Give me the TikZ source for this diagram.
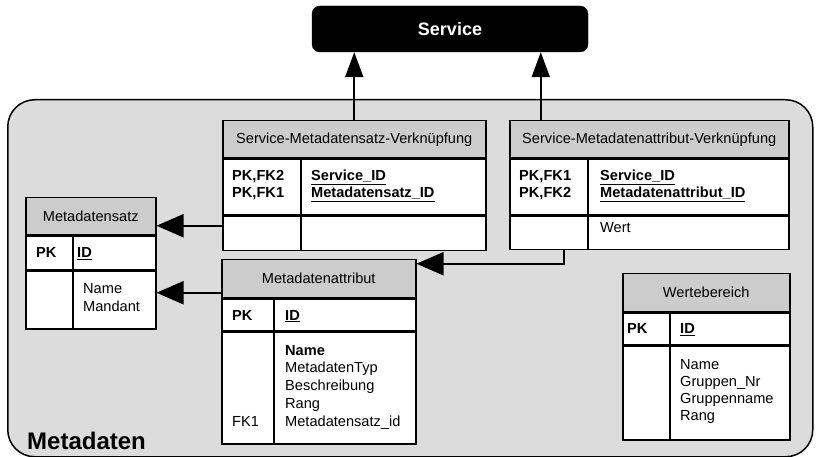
\documentclass[tikz,border=0pt]{standalone}
\usepackage{fontspec}
\setmainfont{Liberation Sans}
\usetikzlibrary{arrows.meta}
\definecolor{boxgray}{HTML}{DCDCDC}
\definecolor{headgray}{HTML}{CCCCCC}
\tikzset{
  band/.style={draw, line width=1.5pt, inner sep=0pt, anchor=north west},
  head/.style={band, fill=headgray, font=\fontsize{14.6}{17.5}\selectfont},
  body/.style={band, fill=white},
  entry/.style={inner sep=0pt, anchor=base west, align=left, font=\fontsize{14.6}{17.5}\selectfont},
  keyentry/.style={entry, font=\fontsize{14.6}{17}\selectfont\bfseries},
  divider/.style={line width=1.5pt},
  fk/.style={line width=2pt, -{Triangle[length=27pt,width=23pt]}},
  svcfk/.style={line width=2pt, -{Triangle[length=25pt,width=18pt]}},
}
\begin{document}
\begin{tikzpicture}[x=1pt, y=-1pt]
  \useasboundingbox (0,0) rectangle (817,457);
  % outer box and service
  \node[draw, line width=1.5pt, fill=boxgray, rounded corners=27pt, anchor=north west,
        minimum width=805pt, minimum height=357pt] (meta) at (7,99) {};
  \node[anchor=base west, inner sep=0pt, font=\fontsize{24}{28}\selectfont\bfseries] (metalbl) at (27,449) {Metadaten};
  \node[draw, fill=black, rounded corners=8pt, minimum width=276pt, minimum height=46pt,
        text=white, font=\fontsize{18}{20}\selectfont\bfseries] (svc) at (450,29) {Service};

  % Service-Metadatensatz-Verknuepfung
  \node[head, minimum width=263pt, minimum height=37pt] (smvh) at (222,120) {Service-Metadatensatz-Verknüpfung};
  \node[body, minimum width=263pt, minimum height=56pt] (smv1) at (smvh.south west) {};
  \node[body, minimum width=263pt, minimum height=34pt] (smv2) at (smv1.south west) {};
  \draw[divider] ([xshift=79pt]smv1.north west) -- ([xshift=79pt]smv2.south west);
  \node[keyentry] (smvk) at (232,198) {PK,FK2\\PK,FK1};
  \node[keyentry] (smvf) at (311,198) {\underline{Service\_ID}\\\underline{Metadatensatz\_ID}};

  % Service-Metadatenattribut-Verknuepfung
  \node[head, minimum width=279pt, minimum height=37pt] (smah) at (509,120) {Service-Metadatenattribut-Verknüpfung};
  \node[body, minimum width=279pt, minimum height=56pt] (sma1) at (smah.south west) {};
  \node[body, minimum width=279pt, minimum height=33pt] (sma2) at (sma1.south west) {};
  \draw[divider] ([xshift=79pt]sma1.north west) -- ([xshift=79pt]sma2.south west);
  \node[keyentry] (smak) at (519,198) {PK,FK1\\PK,FK2};
  \node[keyentry] (smaf) at (600,198) {\underline{Service\_ID}\\\underline{Metadatenattribut\_ID}};
  \node[entry] (smaw) at (600,233) {Wert};

  % Metadatensatz
  \node[head, minimum width=130pt, minimum height=37pt] (msh) at (25,197) {Metadatensatz};
  \node[body, minimum width=130pt, minimum height=34pt] (ms1) at (msh.south west) {};
  \node[body, minimum width=130pt, minimum height=57pt] (ms2) at (ms1.south west) {};
  \draw[divider] ([xshift=48pt]ms1.north west) -- ([xshift=48pt]ms2.south west);
  \node[keyentry] (msk) at (36,258) {PK};
  \node[keyentry] (msid) at (77,258) {\underline{ID}};
  \node[entry] (msf) at (83,311) {Name\\Mandant};

  % Metadatenattribut
  \node[head, minimum width=194pt, minimum height=38pt] (mah) at (221,259) {Metadatenattribut};
  \node[body, minimum width=194pt, minimum height=31pt] (ma1) at (mah.south west) {};
  \node[body, minimum width=194pt, minimum height=112pt] (ma2) at (ma1.south west) {};
  \draw[divider] ([xshift=53pt]ma1.north west) -- ([xshift=53pt]ma2.south west);
  \node[keyentry] (mak) at (232,320) {PK};
  \node[keyentry] (maid) at (285,320) {\underline{ID}};
  \node[entry, font=\fontsize{14.6}{17.75}\selectfont] (maf) at (285,426) {\textbf{Name}\\MetadatenTyp\\Beschreibung\\Rang\\Metadatensatz\_id};
  \node[entry] (mafk) at (232,426) {FK1};

  % Wertebereich
  \node[head, minimum width=167pt, minimum height=38pt] (wbh) at (622,273) {Wertebereich};
  \node[body, minimum width=167pt, minimum height=31pt] (wb1) at (wbh.south west) {};
  \node[body, minimum width=167pt, minimum height=94pt] (wb2) at (wb1.south west) {};
  \draw[divider] ([xshift=48pt]wb1.north west) -- ([xshift=48pt]wb2.south west);
  \node[keyentry] (wbk) at (627,334) {PK};
  \node[keyentry] (wbid) at (680,334) {\underline{ID}};
  \node[entry, font=\fontsize{14.6}{17}\selectfont] (wbf) at (680,420) {Name\\Gruppen\_Nr\\Gruppenname\\Rang};

  % relations
  \draw[svcfk] (smvh.north) -- (smvh.north |- svc.south);
  \draw[svcfk] ([xshift=-108.5pt]smah.north) -- ([xshift=-108.5pt]smah.north |- svc.south);
  \draw[fk] ([yshift=8pt]smv2.west) -- ([yshift=8pt]smv2.west -| msh.east);
  \draw[fk] ([yshift=-14pt]mah.west) -- ([yshift=-14pt]mah.west -| ms2.east);
  \draw[fk] ([xshift=-85.5pt]sma2.south) |- ([yshift=15pt]mah.east);
\end{tikzpicture}
\end{document}
